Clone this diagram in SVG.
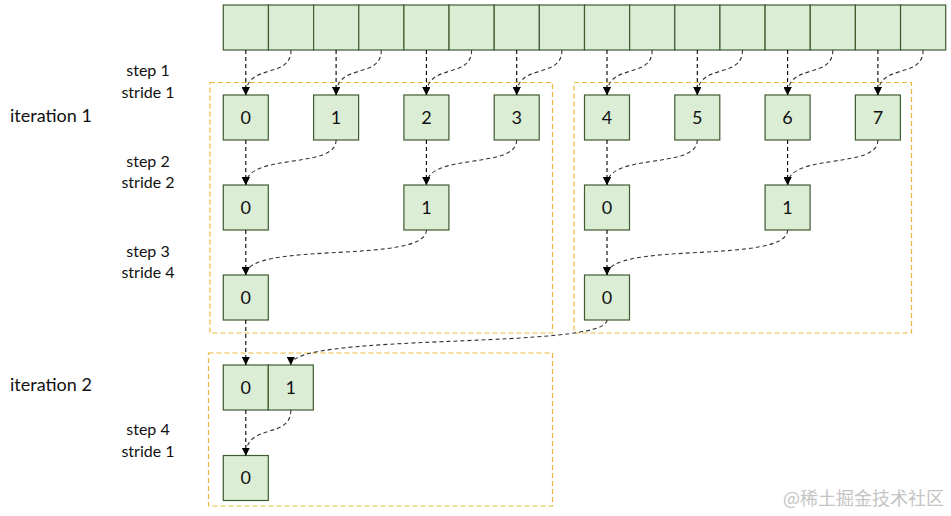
<svg xmlns="http://www.w3.org/2000/svg" width="951" height="516" viewBox="0 0 951 516">
<style>
.cell{fill:#dcedd5;stroke:#3f5b30;stroke-width:1.2}
.grp{fill:none;stroke:#e9b93a;stroke-width:1.2;stroke-dasharray:5,3}
.lbl{font-family:Lato,"Liberation Sans",sans-serif;font-size:16px;fill:#111}
.it{font-family:Lato,"Liberation Sans",sans-serif;font-size:18px;fill:#111}
.num{font-family:Lato,"Liberation Sans",sans-serif;font-size:18px;fill:#111;text-anchor:middle}
.st{fill:none;stroke:#000;stroke-width:1.1;stroke-dasharray:4,3}
.cv{fill:none;stroke:#333;stroke-width:1.1;stroke-dasharray:4,3}
.wm{font-family:"Noto Sans CJK SC",sans-serif;font-size:18px;fill:#c4c4c4;text-anchor:end}
</style>
<defs>
<marker id="ah" viewBox="0 0 8 8" refX="8" refY="4" markerWidth="8" markerHeight="8" markerUnits="userSpaceOnUse" orient="auto">
<path d="M0,0 L8,4 L0,8 z" fill="#000"/>
</marker>
</defs>
<rect width="951" height="516" fill="#fff"/>

<g id="groups">
<rect class="grp" x="210" y="82.5" width="342.5" height="250.5"/>
<rect class="grp" x="574" y="82.5" width="337.5" height="250.5"/>
<rect class="grp" x="208.5" y="353" width="344" height="153"/>
</g>

<g id="input-array">
<rect class="cell" x="223.3" y="5" width="45.15" height="45"/>
<rect class="cell" x="268.45" y="5" width="45.15" height="45"/>
<rect class="cell" x="313.6" y="5" width="45.15" height="45"/>
<rect class="cell" x="358.75" y="5" width="45.15" height="45"/>
<rect class="cell" x="403.9" y="5" width="45.15" height="45"/>
<rect class="cell" x="449.05" y="5" width="45.15" height="45"/>
<rect class="cell" x="494.2" y="5" width="45.15" height="45"/>
<rect class="cell" x="539.35" y="5" width="45.15" height="45"/>
<rect class="cell" x="584.5" y="5" width="45.15" height="45"/>
<rect class="cell" x="629.65" y="5" width="45.15" height="45"/>
<rect class="cell" x="674.8" y="5" width="45.15" height="45"/>
<rect class="cell" x="719.95" y="5" width="45.15" height="45"/>
<rect class="cell" x="765.1" y="5" width="45.15" height="45"/>
<rect class="cell" x="810.25" y="5" width="45.15" height="45"/>
<rect class="cell" x="855.4" y="5" width="45.15" height="45"/>
<rect class="cell" x="900.55" y="5" width="45.15" height="45"/>
</g>

<g id="labels">
<text class="lbl" x="148" y="76" text-anchor="middle">step 1</text>
<text class="lbl" x="148" y="98" text-anchor="middle">stride 1</text>
<text class="it" x="10" y="122">iteration 1</text>
<text class="lbl" x="148" y="166.5" text-anchor="middle">step 2</text>
<text class="lbl" x="148" y="187.5" text-anchor="middle">stride 2</text>
<text class="lbl" x="148" y="256.5" text-anchor="middle">step 3</text>
<text class="lbl" x="148" y="277.5" text-anchor="middle">stride 4</text>
<text class="it" x="10" y="390.5">iteration 2</text>
<text class="lbl" x="148" y="435" text-anchor="middle">step 4</text>
<text class="lbl" x="148" y="457" text-anchor="middle">stride 1</text>
</g>

<g id="step1-nodes">
<g id="s1n0"><rect class="cell" x="223.3" y="95" width="45" height="45"/><text class="num" x="245.8" y="123.8">0</text></g>
<g id="s1n1"><rect class="cell" x="313.6" y="95" width="45" height="45"/><text class="num" x="336.1" y="123.8">1</text></g>
<g id="s1n2"><rect class="cell" x="403.9" y="95" width="45" height="45"/><text class="num" x="426.4" y="123.8">2</text></g>
<g id="s1n3"><rect class="cell" x="494.2" y="95" width="45" height="45"/><text class="num" x="516.7" y="123.8">3</text></g>
<g id="s1n4"><rect class="cell" x="584.5" y="95" width="45" height="45"/><text class="num" x="607" y="123.8">4</text></g>
<g id="s1n5"><rect class="cell" x="674.8" y="95" width="45" height="45"/><text class="num" x="697.3" y="123.8">5</text></g>
<g id="s1n6"><rect class="cell" x="765.1" y="95" width="45" height="45"/><text class="num" x="787.6" y="123.8">6</text></g>
<g id="s1n7"><rect class="cell" x="855.4" y="95" width="45" height="45"/><text class="num" x="877.9" y="123.8">7</text></g>
</g>

<g id="step2-nodes">
<g id="s2n0"><rect class="cell" x="223.3" y="185" width="45" height="45"/><text class="num" x="245.8" y="213.8">0</text></g>
<g id="s2n1"><rect class="cell" x="403.9" y="185" width="45" height="45"/><text class="num" x="426.4" y="213.8">1</text></g>
<g id="s2n2"><rect class="cell" x="584.5" y="185" width="45" height="45"/><text class="num" x="607" y="213.8">0</text></g>
<g id="s2n3"><rect class="cell" x="765.1" y="185" width="45" height="45"/><text class="num" x="787.6" y="213.8">1</text></g>
</g>

<g id="step3-nodes">
<g id="s3n0"><rect class="cell" x="223.3" y="275" width="45" height="45"/><text class="num" x="245.8" y="303.8">0</text></g>
<g id="s3n1"><rect class="cell" x="584.5" y="275" width="45" height="45"/><text class="num" x="607" y="303.8">0</text></g>
</g>

<g id="iter2-nodes">
<g id="i2n0"><rect class="cell" x="223.3" y="365" width="45" height="45"/><text class="num" x="245.8" y="393.8">0</text></g>
<g id="i2n1"><rect class="cell" x="268.3" y="365" width="45" height="45"/><text class="num" x="290.8" y="393.8">1</text></g>
<g id="s4n0"><rect class="cell" x="223.3" y="455.5" width="45" height="45"/><text class="num" x="245.8" y="484.3">0</text></g>
</g>

<g id="connectors">
<path class="st" d="M245.8,50 V95" marker-end="url(#ah)"/>
<path class="cv" d="M291,50 C291,80 245.8,62 245.8,95" marker-end="url(#ah)"/>
<path class="st" d="M336.1,50 V95" marker-end="url(#ah)"/>
<path class="cv" d="M381.3,50 C381.3,80 336.1,62 336.1,95" marker-end="url(#ah)"/>
<path class="st" d="M426.4,50 V95" marker-end="url(#ah)"/>
<path class="cv" d="M471.6,50 C471.6,80 426.4,62 426.4,95" marker-end="url(#ah)"/>
<path class="st" d="M516.7,50 V95" marker-end="url(#ah)"/>
<path class="cv" d="M561.9,50 C561.9,80 516.7,62 516.7,95" marker-end="url(#ah)"/>
<path class="st" d="M607,50 V95" marker-end="url(#ah)"/>
<path class="cv" d="M652.2,50 C652.2,80 607,62 607,95" marker-end="url(#ah)"/>
<path class="st" d="M697.3,50 V95" marker-end="url(#ah)"/>
<path class="cv" d="M742.5,50 C742.5,80 697.3,62 697.3,95" marker-end="url(#ah)"/>
<path class="st" d="M787.6,50 V95" marker-end="url(#ah)"/>
<path class="cv" d="M832.8,50 C832.8,80 787.6,62 787.6,95" marker-end="url(#ah)"/>
<path class="st" d="M877.9,50 V95" marker-end="url(#ah)"/>
<path class="cv" d="M923.1,50 C923.1,80 877.9,62 877.9,95" marker-end="url(#ah)"/>
<path class="st" d="M245.8,140 V185" marker-end="url(#ah)"/>
<path class="cv" d="M336.1,140 C336.1,170 245.8,152 245.8,185" marker-end="url(#ah)"/>
<path class="st" d="M426.4,140 V185" marker-end="url(#ah)"/>
<path class="cv" d="M516.7,140 C516.7,170 426.4,152 426.4,185" marker-end="url(#ah)"/>
<path class="st" d="M607,140 V185" marker-end="url(#ah)"/>
<path class="cv" d="M697.3,140 C697.3,170 607,152 607,185" marker-end="url(#ah)"/>
<path class="st" d="M787.6,140 V185" marker-end="url(#ah)"/>
<path class="cv" d="M877.9,140 C877.9,170 787.6,152 787.6,185" marker-end="url(#ah)"/>
<path class="st" d="M245.8,230 V275" marker-end="url(#ah)"/>
<path class="cv" d="M426.4,230 C426.4,265 245.8,240 245.8,275" marker-end="url(#ah)"/>
<path class="st" d="M607,230 V275" marker-end="url(#ah)"/>
<path class="cv" d="M787.6,230 C787.6,265 607,240 607,275" marker-end="url(#ah)"/>
<path class="st" d="M245.8,320 V365" marker-end="url(#ah)"/>
<path class="cv" d="M607,320 C607,350 290.8,332 290.8,365" marker-end="url(#ah)"/>
<path class="st" d="M245.8,410 V455.5" marker-end="url(#ah)"/>
<path class="cv" d="M290.8,410 C290.8,440 245.8,422 245.8,455.5" marker-end="url(#ah)"/>
</g>

<text class="wm" x="944" y="505">@稀土掘金技术社区</text>
</svg>
